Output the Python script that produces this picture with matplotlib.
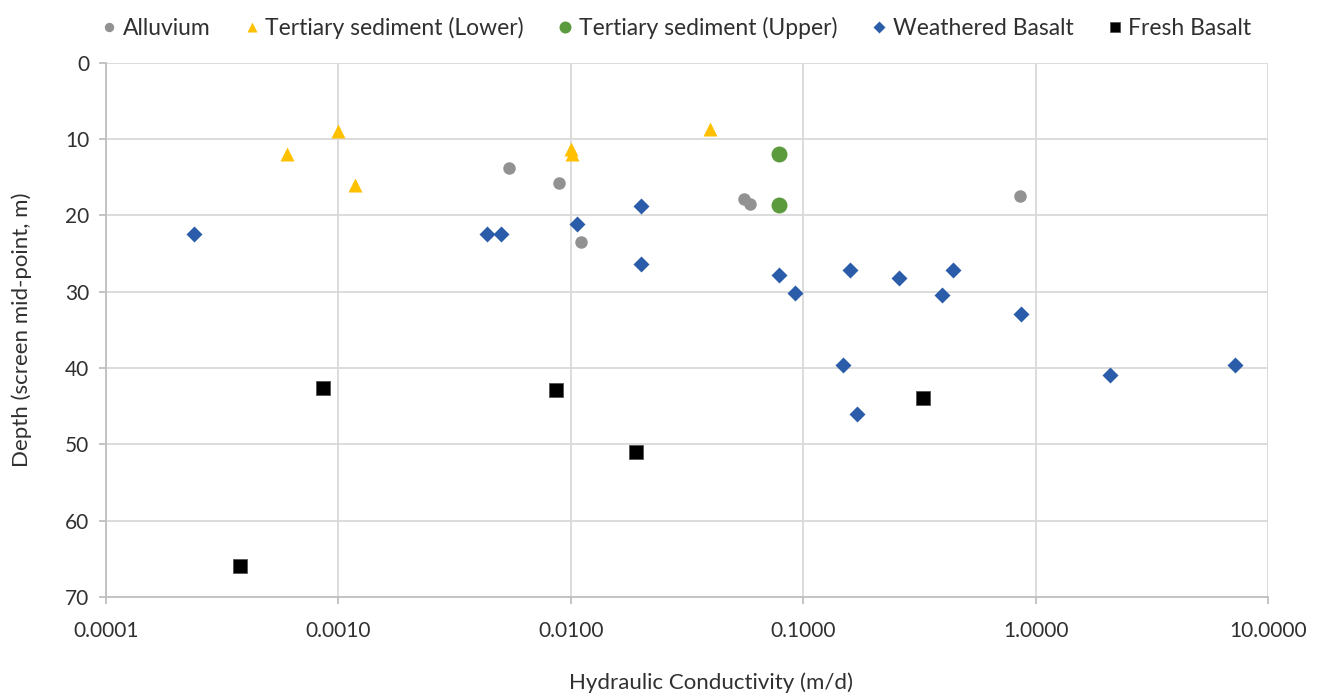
import numpy as np
import matplotlib.pyplot as plt

plt.rcParams['font.family'] = ['Lato', 'DejaVu Sans']

# values: hydraulic conductivity (m/d) and depth (m)
alluvium_k = [0.00544, 0.00893, 0.0111, 0.0557, 0.059, 0.853]
alluvium_d = [13.8, 15.8, 23.5, 17.9, 18.5, 17.4]

tert_lower_k = [0.00060, 0.00100, 0.00118, 0.0100, 0.0101, 0.0397]
tert_lower_d = [12.0, 8.9, 16.0, 11.3, 11.9, 8.6]

tert_upper_k = [0.0789, 0.0789]
tert_upper_d = [12.0, 18.6]

weathered_k = [0.00024, 0.00436, 0.0050, 0.01064, 0.01995, 0.01995, 0.0789,
               0.092, 0.159, 0.258, 0.441, 0.396, 0.869, 0.149, 0.171, 2.09, 7.2]
weathered_d = [22.4, 22.4, 22.4, 21.1, 18.7, 26.3, 27.8,
               30.1, 27.1, 28.2, 27.1, 30.4, 32.9, 39.6, 46.0, 40.9, 39.6]

fresh_k = [0.000376, 0.00086, 0.00863, 0.019, 0.327]
fresh_d = [66.0, 42.6, 42.9, 51.0, 43.9]

fig = plt.figure(figsize=(13.25, 6.99), dpi=100)
ax = fig.add_axes([0.080, 0.146, 0.877, 0.764])

ax.plot(alluvium_k, alluvium_d, 'o', ms=9, color='#929292', mec='none', label='Alluvium')
ax.plot(tert_lower_k, tert_lower_d, '^', ms=10, color='#ffc000', mec='none',
        label='Tertiary sediment (Lower)')
ax.plot(tert_upper_k, tert_upper_d, 'o', ms=11.5, color='#5b9b3e', mec='none',
        label='Tertiary sediment (Upper)')
ax.plot(weathered_k, weathered_d, 'D', ms=8.3, color='#2a5ca9', mec='none',
        label='Weathered Basalt')
ax.plot(fresh_k, fresh_d, 's', ms=10.5, color='#000000', mec='#555555', mew=0.6,
        label='Fresh Basalt')

ax.set_xscale('log')
ax.set_xlim(0.0001, 10)
ax.set_ylim(70, 0)
xt = [0.0001, 0.001, 0.01, 0.1, 1, 10]
ax.set_xticks(xt)
ax.set_xticklabels(['%.4f' % v for v in xt])
ax.minorticks_off()
ax.set_yticks(np.arange(0, 71, 10))

ax.grid(True, color='#d9d9d9', lw=1.3)
ax.set_axisbelow(True)
for s in ['top', 'right']:
    ax.spines[s].set_visible(False)
for s in ['left', 'bottom']:
    ax.spines[s].set_color('#bfbfbf')
    ax.spines[s].set_linewidth(1.3)
ax.tick_params(axis='both', colors='#bfbfbf', labelcolor='#303030', labelsize=15,
               length=5, width=1.3)
ax.tick_params(axis='x', pad=12)
ax.tick_params(axis='y', pad=7)

ax.set_xlabel('Hydraulic Conductivity (m/d)', fontsize=16, color='#303030')
ax.xaxis.set_label_coords(0.521, -0.142)
ax.set_ylabel('Depth (screen mid-point, m)', fontsize=16, color='#303030', labelpad=24)

fig.legend(loc='upper center', bbox_to_anchor=(0.509, 1.005), ncol=5, frameon=False,
           fontsize=16.5, handlelength=1.0, handletextpad=0.1, columnspacing=1.3,
           markerscale=0.75, labelcolor='#303030')

fig.savefig('out.png', dpi=100)
